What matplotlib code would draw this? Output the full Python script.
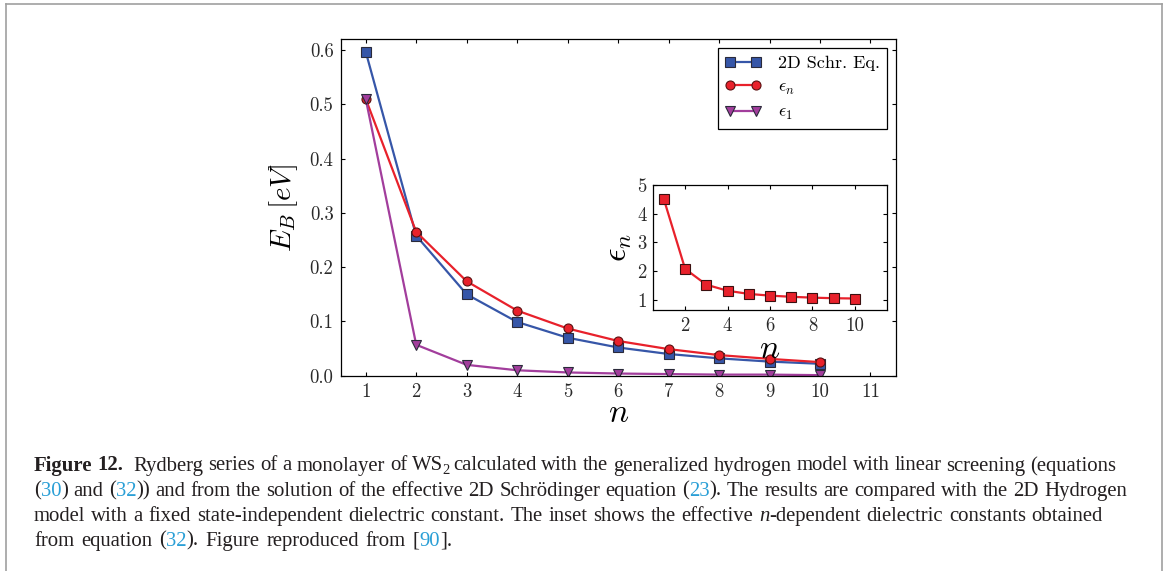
import matplotlib
matplotlib.use('Agg')
import matplotlib.pyplot as plt
from matplotlib.lines import Line2D
from matplotlib.ticker import FormatStrFormatter

# ---------------- data ----------------
n_vals = [1, 2, 3, 4, 5, 6, 7, 8, 9, 10]
eb_schr = [0.597, 0.258, 0.150, 0.099, 0.070, 0.052, 0.040, 0.032, 0.026, 0.022]
eb_epsn = [0.510, 0.265, 0.174, 0.120, 0.087, 0.064, 0.049, 0.038, 0.031, 0.025]
eb_eps1 = [0.510, 0.057, 0.020, 0.010, 0.006, 0.004, 0.003, 0.002, 0.002, 0.001]
eps_n = [4.50, 2.08, 1.53, 1.32, 1.21, 1.15, 1.11, 1.08, 1.06, 1.05]
series_labels = ['2D Schr. Eq.', r'$\epsilon_n$', r'$\epsilon_1$']
main_xticks = [1, 2, 3, 4, 5, 6, 7, 8, 9, 10, 11]
main_yticks = [0.0, 0.1, 0.2, 0.3, 0.4, 0.5, 0.6]
inset_xticks = [2, 4, 6, 8, 10]
inset_yticks = [1, 2, 3, 4, 5]

caption_lines = [
    [('Figure 12.', 'b'), ('  Rydberg series of a monolayer of WS', 'n'), ('2', 's'),
     (' calculated with the generalized hydrogen model with linear screening (equations', 'n')],
    [('(', 'n'), ('30', 'c'), (') and (', 'n'), ('32', 'c'),
     (')) and from the solution of the effective 2D Schrödinger equation (', 'n'), ('23', 'c'),
     ('). The results are compared with the 2D Hydrogen', 'n')],
    [('model with a fixed state-independent dielectric constant. The inset shows the effective ', 'n'),
     ('n', 'i'), ('-dependent dielectric constants obtained', 'n')],
    [('from equation (', 'n'), ('32', 'c'), ('). Figure reproduced from [', 'n'), ('90', 'c'), (('].', 'n'))],
]

# ---------------- style ----------------
plt.rcParams['mathtext.fontset'] = 'cm'
plt.rcParams['font.family'] = ['cmr10', 'DejaVu Serif']
plt.rcParams['axes.unicode_minus'] = False

W, H = 1168, 571
fig = plt.figure(figsize=(W / 100, H / 100), dpi=100)

C_BLUE = '#3656a8'
C_RED = '#e8212b'
C_PURPLE = '#a23d9c'
EDGE = '#2a2a3a'

def px_box(l, t, r, b):
    return [l / W, 1 - b / H, (r - l) / W, (b - t) / H]

ax = fig.add_axes(px_box(340.5, 39.3, 895.7, 375.7))
ax.plot(n_vals, eb_schr, '-s', color=C_BLUE, lw=1.6, ms=6.5, mfc=C_BLUE, mec=EDGE, mew=0.8,
        label=series_labels[0])
ax.plot(n_vals, eb_epsn, '-o', color=C_RED, lw=1.6, ms=6.5, mfc=C_RED, mec='#5a1010', mew=0.8,
        label=series_labels[1])
ax.plot(n_vals, eb_eps1, '-v', color=C_PURPLE, lw=1.6, ms=6.5, mfc=C_PURPLE, mec=EDGE, mew=0.8,
        label=series_labels[2])
ax.set_xlim(0.5, 11.5)
ax.set_ylim(0.0, 0.62)
ax.set_xticks(main_xticks)
ax.set_yticks(main_yticks)
ax.yaxis.set_major_formatter(FormatStrFormatter('%.1f'))
ax.tick_params(direction='in', top=True, right=True, length=3, width=0.8,
               labelsize=13.5, labelcolor='#2a2a2a', pad=5)
for s in ax.spines.values():
    s.set_linewidth(0.9)
ax.set_xlabel(r'$n$', fontsize=24, labelpad=-1)
ax.set_ylabel(r'$E_B\,[eV]$', fontsize=21, labelpad=7)

leg = ax.legend(loc='upper right', numpoints=2, fontsize=13, frameon=True, fancybox=False,
                edgecolor='black', framealpha=1, handlelength=2.05, handletextpad=0.9,
                labelspacing=0.45, borderaxespad=0.5, borderpad=0.38)
leg.get_frame().set_linewidth(0.9)

# inset
axi = fig.add_axes(px_box(653.3, 185, 886.7, 310))
axi.plot(n_vals, eps_n, '-s', color=C_RED, lw=1.6, ms=6.5, mfc=C_RED, mec='#3a1010', mew=0.8)
axi.set_xlim(0.5, 11.5)
axi.set_ylim(0.65, 5.0)
axi.set_xticks(inset_xticks)
axi.set_yticks(inset_yticks)
axi.tick_params(direction='in', top=True, right=True, length=3, width=0.8,
                labelsize=13.5, labelcolor='#2a2a2a', pad=5)
for s in axi.spines.values():
    s.set_linewidth(0.9)
axi.set_xlabel(r'$n$', fontsize=24, labelpad=0)
axi.set_ylabel(r'$\epsilon_n$', fontsize=24, labelpad=2)

# page frame
for xs, ys in [((6.3, 6.3), (4.3, H + 5)), ((6.3, 1162.3), (4.3, 4.3)), ((1162.3, 1162.3), (4.3, H + 5))]:
    fig.add_artist(Line2D([x / W for x in xs], [1 - y / H for y in ys], color='#a0a0a0', lw=1.2,
                          transform=fig.transFigure))

# caption
renderer = fig.canvas.get_renderer()
TXT = '#231f20'
CITE = '#2a9fd6'
CAP_FONT = 'Liberation Serif'

def make_text(piece, style, size):
    kw = dict(fontsize=size, color=TXT, family=CAP_FONT, va='baseline', ha='left',
              transform=None)
    if style == 'b':
        kw['fontweight'] = 'bold'
    elif style == 'c':
        kw['color'] = CITE
    elif style == 'i':
        kw['fontstyle'] = 'italic'
    elif style == 's':
        kw['fontsize'] = size * 0.7
    return fig.text(0, 0, piece, **kw)

def split_words(runs):
    words = [[]]
    for text, style in runs:
        parts = text.split(' ')
        for k, p in enumerate(parts):
            if k > 0:
                words.append([])
            if p:
                words[-1].append((p, style))
    return words

x0 = 34
baselines = [470.5, 495.7, 520.7, 545.7]
rights = [1118, 1127, 1103, 452]

# measure natural widths at a base size to choose the font size
BASE = 12.0
probe = make_text('a b', 'n', BASE)
w_ab = probe.get_window_extent(renderer).width
probe.set_text('ab')
space_w = w_ab - probe.get_window_extent(renderer).width
probe.remove()
ratios = []
for runs, right in zip(caption_lines[:3], rights[:3]):
    words = split_words(runs)
    tot = 0.0
    for w in words:
        for p, style in w:
            t = make_text(p, style, BASE)
            tot += t.get_window_extent(renderer).width
            t.remove()
    nat = tot + (len(words) - 1) * space_w
    ratios.append((right - x0) / nat)
CAP_SIZE = BASE * sorted(ratios)[1]

for runs, base, right in zip(caption_lines, baselines, rights):
    words = split_words(runs)
    word_items = []
    total = 0.0
    for w in words:
        items = []
        for p, style in w:
            t = make_text(p, style, CAP_SIZE)
            wd = t.get_window_extent(renderer).width
            if style == 's':
                wd -= 1.0
            items.append((t, style, wd))
            total += wd
        word_items.append(items)
    gaps = len(word_items) - 1
    gap = (right - x0 - total) / gaps if gaps > 0 else 0
    x = x0
    ybase = H - base
    for items in word_items:
        for t, style, wd in items:
            if style == 's':
                x -= 1.5
                t.set_position((x, ybase - 4))
            else:
                t.set_position((x, ybase))
            x += wd
        x += gap

fig.savefig('out.png', dpi=100, facecolor='white')
